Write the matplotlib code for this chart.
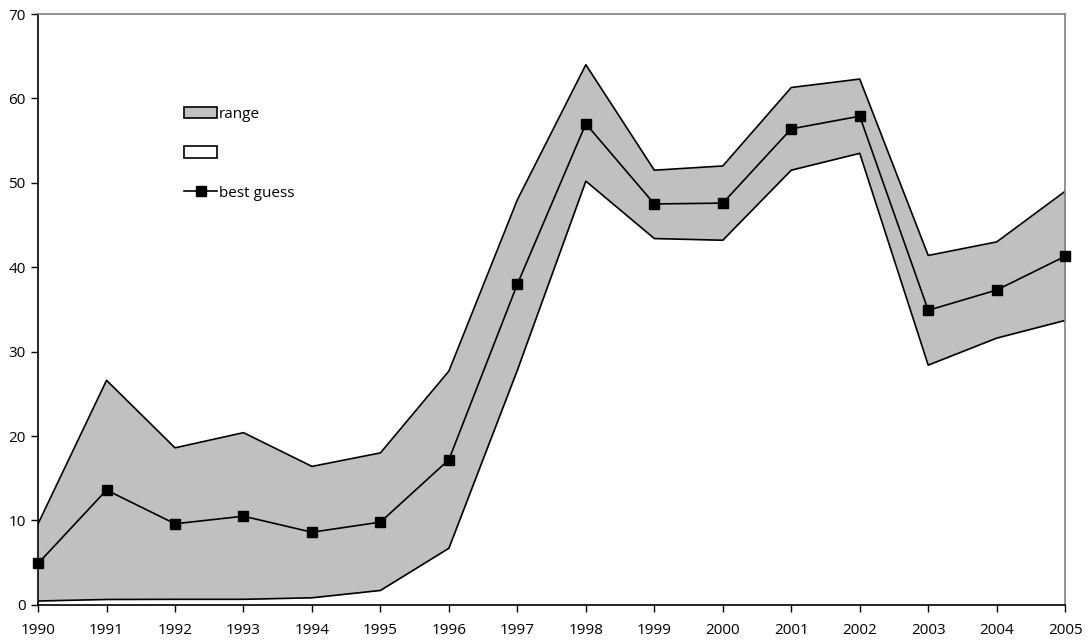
import numpy as np
import matplotlib.pyplot as plt
from matplotlib.patches import Patch
from matplotlib.lines import Line2D

plt.rcParams['font.family'] = ['Open Sans', 'DejaVu Sans']

years = np.arange(1990, 2006)
upper = [9.6, 26.6, 18.6, 20.4, 16.4, 18.0, 27.7, 48.0, 64.0, 51.5, 52.0, 61.3, 62.3, 41.4, 43.0, 49.0]
best = [4.9, 13.6, 9.6, 10.5, 8.6, 9.8, 17.2, 38.0, 57.0, 47.5, 47.6, 56.4, 57.9, 34.9, 37.3, 41.3]
lower = [0.45, 0.63, 0.65, 0.65, 0.83, 1.7, 6.7, 27.8, 50.2, 43.4, 43.2, 51.5, 53.5, 28.4, 31.6, 33.7]

fig = plt.figure(figsize=(10.88, 6.40), dpi=100)
ax = fig.add_axes([0.035, 0.055, 0.944, 0.923])

ax.fill_between(years, lower, upper, color='#c0c0c0', linewidth=0)
ax.plot(years, upper, color='black', lw=1.2)
ax.plot(years, lower, color='black', lw=1.2)
ax.plot(years, best, color='black', lw=1.2, marker='s', markersize=7.5, clip_on=False, zorder=5)

ax.set_xlim(1990, 2005)
ax.set_ylim(0, 70)
ax.set_xticks(years)
ax.set_xticklabels([str(y) for y in years])
ax.set_yticks(range(0, 71, 10))
ax.tick_params(direction='out', length=5, width=1, labelsize=11, colors='black')
ax.tick_params(axis='y', pad=4)
ax.tick_params(axis='x', pad=8)

for s in ['top', 'right']:
    ax.spines[s].set_color('#808080')
    ax.spines[s].set_linewidth(1.2)
for s in ['left', 'bottom']:
    ax.spines[s].set_color('black')
    ax.spines[s].set_linewidth(1.2)

handles = [
    Patch(facecolor='#c0c0c0', edgecolor='black', linewidth=1.2),
    Patch(facecolor='white', edgecolor='black', linewidth=1.2),
    Line2D([0], [0], color='black', lw=1.2, marker='s', markersize=7.5),
]
fig.legend(handles, ['range', '', 'best guess'], loc='upper left',
           bbox_to_anchor=(0.169, 0.833), frameon=False, fontsize=11,
           handlelength=2.2, handleheight=0.75, handletextpad=0.1,
           labelspacing=1.6, borderpad=0, borderaxespad=0)

fig.savefig('out.png', dpi=100)
